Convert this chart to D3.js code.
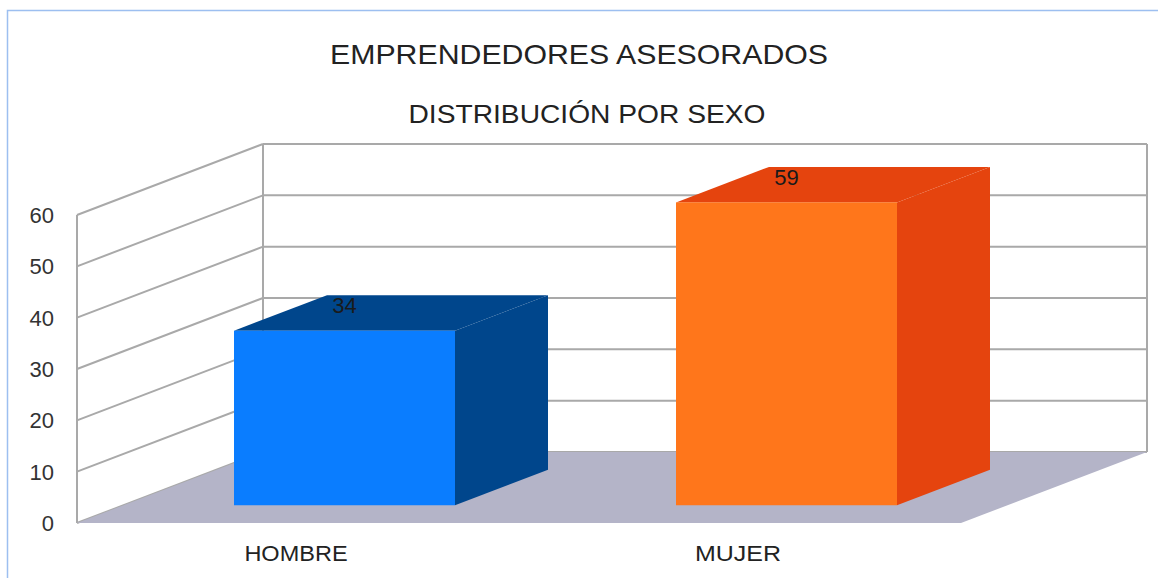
<!DOCTYPE html>
<html>
<head>
<meta charset="utf-8">
<script src="https://cdn.jsdelivr.net/npm/d3@7"></script>
<style>
  html, body { margin: 0; padding: 0; background: #ffffff; }
  svg { display: block; font-family: "Liberation Sans", Arial, sans-serif; }
</style>
</head>
<body>
<svg id="chart" width="1158" height="578"></svg>
<script>
// ---- data ----
const categories = ["HOMBRE", "MUJER"];
const values = [34, 59];
const yTicks = [0, 10, 20, 30, 40, 50, 60];
const titleText = "EMPRENDEDORES ASESORADOS";
const subtitleText = "DISTRIBUCIÓN POR SEXO";
const frontColors = ["#0a7dff", "#ff761b"];
const sideColors = ["#00468c", "#e5440e"];

// ---- layout ----
const svg = d3.select("#chart");
const W = 1158, H = 578;
const plotLeft = 77, plotRight = 961, plotBottom = 523, plotTop = 215;
const depthDX = 186, depthDY = -71;

const x = d3.scaleBand().domain(categories).range([plotLeft, plotRight])
  .paddingInner(0.5).paddingOuter(0.25);
const y = d3.scaleLinear().domain([0, 60]).range([plotBottom, plotTop]);
const proj = (px, py, z) => [px + z * depthDX, py + z * depthDY];

// outer border
svg.append("path")
  .attr("d", `M7.5,${H} L7.5,10.5 L${W},10.5`)
  .attr("fill", "none").attr("stroke", "#9dbff0").attr("stroke-width", 1.5);

// title
svg.append("text").attr("x", 579).attr("y", 64).attr("text-anchor", "middle")
  .attr("font-size", 28).attr("fill", "#222").attr("textLength", 498)
  .attr("lengthAdjust", "spacingAndGlyphs").text(titleText);
svg.append("text").attr("x", 587).attr("y", 123).attr("text-anchor", "middle")
  .attr("font-size", 25).attr("fill", "#222").attr("textLength", 357)
  .attr("lengthAdjust", "spacingAndGlyphs").text(subtitleText);

const gridColor = "#a9a9a9";
const grid = svg.append("g").attr("stroke", gridColor).attr("stroke-width", 2).attr("fill", "none");

// back wall horizontal grid lines
yTicks.forEach(t => {
  const a = proj(plotLeft, y(t), 1), b = proj(plotRight, y(t), 1);
  grid.append("line").attr("x1", a[0]).attr("y1", a[1]).attr("x2", b[0]).attr("y2", b[1]);
});
// back wall verticals
[plotLeft, plotRight].forEach(px => {
  const a = proj(px, y(0), 1), b = proj(px, y(60), 1);
  grid.append("line").attr("x1", a[0]).attr("y1", a[1]).attr("x2", b[0]).attr("y2", b[1]);
});
// left wall lines
yTicks.forEach(t => {
  const a = proj(plotLeft, y(t), 0), b = proj(plotLeft, y(t), 1);
  grid.append("line").attr("x1", a[0]).attr("y1", a[1]).attr("x2", b[0]).attr("y2", b[1]);
});
// front axis line
grid.append("line").attr("x1", plotLeft).attr("y1", y(0)).attr("x2", plotLeft).attr("y2", y(60));

// floor
const floorPts = [proj(plotLeft, y(0), 0), proj(plotRight, y(0), 0), proj(plotRight, y(0), 1), proj(plotLeft, y(0), 1)];
svg.append("polygon").attr("points", floorPts.map(p => p.join(",")).join(" "))
  .attr("fill", "#b4b4c8");

// y tick labels
svg.append("g").selectAll("text").data(yTicks).join("text")
  .attr("x", 54).attr("y", d => y(d)).attr("dy", "0.36em")
  .attr("text-anchor", "end").attr("font-size", 22).attr("fill", "#333")
  .text(d => d);

// bars
const z0 = 0.25, z1 = 0.75;
const bars = svg.append("g");
categories.forEach((c, i) => {
  const v = values[i];
  const xl = x(c), xr = x(c) + x.bandwidth();
  const yb = y(0), yt = y(v);
  const g = bars.append("g");
  // right side face
  const side = [proj(xr, yb, z0), proj(xr, yb, z1), proj(xr, yt, z1), proj(xr, yt, z0)];
  g.append("polygon").attr("points", side.map(p => p.join(",")).join(" ")).attr("fill", sideColors[i]);
  // top face
  const top = [proj(xl, yt, z0), proj(xr, yt, z0), proj(xr, yt, z1), proj(xl, yt, z1)];
  g.append("polygon").attr("points", top.map(p => p.join(",")).join(" ")).attr("fill", sideColors[i]);
  // front face
  const f0 = proj(xl, yt, z0), f1 = proj(xr, yb, z0);
  g.append("rect").attr("x", f0[0]).attr("y", f0[1]).attr("width", f1[0] - f0[0]).attr("height", f1[1] - f0[1])
    .attr("fill", frontColors[i]);
  // value label
  const lp = proj(xl + x.bandwidth() / 2, yt, z0);
  const lp2 = proj(xl, yt, 0.5);
  g.append("text").attr("x", lp[0]).attr("y", lp2[1]).attr("text-anchor", "middle")
    .attr("font-size", 22).attr("fill", "#1a1a1a").text(v);
});

// category labels
svg.append("g").selectAll("text").data(categories).join("text")
  .attr("x", d => x(d) + x.bandwidth() / 2 - 2).attr("y", 561)
  .attr("text-anchor", "middle").attr("font-size", 22).attr("fill", "#222")
  .attr("textLength", d => d.length * 17.2).attr("lengthAdjust", "spacingAndGlyphs")
  .text(d => d);
</script>
</body>
</html>
